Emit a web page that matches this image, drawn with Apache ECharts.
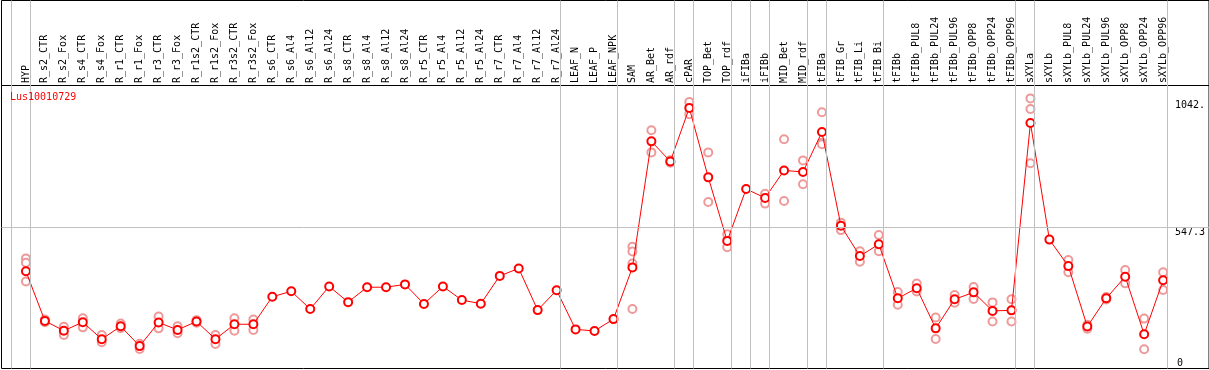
<!DOCTYPE html>
<html>
<head>
<meta charset="utf-8">
<script src="https://cdn.jsdelivr.net/npm/echarts@6/dist/echarts.min.js"></script>
<style>
html,body{margin:0;padding:0;background:#fff;}
#chart{width:1209px;height:370px;}
</style>
</head>
<body>
<div id="chart"></div>
<script>
const title = 'Lus10010729';
const categories = ['HYP','R_s2_CTR','R_s2_Fox','R_s4_CTR','R_s4_Fox','R_r1_CTR','R_r1_Fox','R_r3_CTR','R_r3_Fox','R_r1s2_CTR','R_r1s2_Fox','R_r3s2_CTR','R_r3s2_Fox','R_s6_CTR','R_s6_Al4','R_s6_Al12','R_s6_Al24','R_s8_CTR','R_s8_Al4','R_s8_Al12','R_s8_Al24','R_r5_CTR','R_r5_Al4','R_r5_Al12','R_r5_Al24','R_r7_CTR','R_r7_Al4','R_r7_Al12','R_r7_Al24','LEAF_N','LEAF_P','LEAF_NPK','SAM','AR_Bet','AR_rdf','cPAR','TOP_Bet','TOP_rdf','iFIBa','iFIBb','MID_Bet','MID_rdf','tFIBa','tFIB_Gr','tFIB_Li','tFIB_Bi','tFIBb','tFIBb_PUL8','tFIBb_PUL24','tFIBb_PUL96','tFIBb_OPP8','tFIBb_OPP24','tFIBb_OPP96','sXYLa','sXYLb','sXYLb_PUL8','sXYLb_PUL24','sXYLb_PUL96','sXYLb_OPP8','sXYLb_OPP24','sXYLb_OPP96'];
const means = [378,185,147,180,114,164,87,179,150,183,114,172,172,279,300,231,319,258,316,316,327,251,319,266,252,360,389,227,304,152,146,192,393,883,805,1013,743,496,698,663,770,764,919,555,437,483,273,312,156,269,296,224,226,954,501,398,163,273,357,133,343];
const replicates = [[428,411,338],[190,180],[162,130],[195,160],[130,102],[175,157],[96,76],[202,156],[164,137],[188,178],[130,95],[195,147],[190,150],
[],[],[],[],[],[],[],[],[],[],[],[],[],[],[],[],[],[],[],
[473,455,408,231],[926,840],[810,800],[1036,988],[840,647],[522,471],[],[679,641],[891,651],[809,716],[996,878,872],[567,538],[456,415],[519,456],
[297,248],[330,299],[198,115],[286,256],[317,270],[257,183],[269,183],[1050,1009,798],[],[422,374],[170,155],[278,268],[383,331],[194,75],[374,305]];
const groupBreaks = [0,1,29,32,35,36,38,39,40,42,43,46,53,54,61];
const yTickValues = [547.3, 1042];
const yTickLabels = ['547.3', '1042.'];
const yZeroValue = [0];
const yZeroLabel = ['0'];

// layout constants
const slotShift = 15/19;
const xMin = (1.5 - 26) / 19, xMax = (1212 - 26) / 19;
const yMax = 1430.5;
const font = 'DejaVu Sans Mono';

const lineData = means.map((v, i) => [i, v]);
const repData = [];
replicates.forEach((arr, i) => arr.forEach(v => repData.push([i, v])));
const sepLines = groupBreaks.map(k => ({ xAxis: k - slotShift }));

const chart = echarts.init(document.getElementById('chart'), null, { renderer: 'canvas' });
chart.setOption({
  animation: false,
  backgroundColor: '#fff',
  title: {
    text: title, left: 10, top: 92, padding: 0,
    textStyle: { color: '#ff0000', fontSize: 10, fontWeight: 'normal', fontFamily: font }
  },
  grid: { left: 1.5, right: -3, top: 0.5, bottom: 1.5, show: true, borderColor: '#000', borderWidth: 1, containLabel: false },
  xAxis: [
    { type: 'value', min: xMin, max: xMax, show: true, axisLine: { show: false }, axisTick: { show: false }, axisLabel: { show: false }, splitLine: { show: false } },
    { type: 'value', min: xMin, max: xMax, position: 'bottom', offset: -283.5,
      axisLine: { show: true, onZero: false, lineStyle: { color: '#000', width: 1 } },
      axisTick: { show: false }, splitLine: { show: false },
      axisLabel: { show: true, inside: true, rotate: 90, margin: 2, customValues: categories.map((c, i) => i),
        formatter: v => categories[Math.round(v)] || '', color: '#000', fontSize: 10, fontFamily: font, hideOverlap: false } }
  ],
  yAxis: [
    { type: 'value', min: 0, max: yMax, position: 'right', axisLine: { show: false }, axisTick: { show: false }, splitLine: { show: false },
      axisLabel: { inside: true, align: 'left', verticalAlign: 'top', margin: 34, customValues: yTickValues,
        formatter: v => yTickLabels[yTickValues.indexOf(v)] || '', color: '#000', fontSize: 10, fontFamily: font } },
    { type: 'value', min: 0, max: yMax, position: 'right', axisLine: { show: false }, axisTick: { show: false }, splitLine: { show: false },
      axisLabel: { inside: true, align: 'left', verticalAlign: 'bottom', margin: 32, customValues: yZeroValue,
        formatter: v => yZeroLabel[yZeroValue.indexOf(v)] || '', color: '#000', fontSize: 10, fontFamily: font } }
  ],
  series: [
    { type: 'scatter', xAxisIndex: 0, yAxisIndex: 0, data: repData, symbol: 'emptyCircle', symbolSize: 8, z: 2,
      itemStyle: { color: '#ee9a9a', borderColor: '#ee9a9a', borderWidth: 1.2, opacity: 1 },
      markLine: { silent: true, symbol: 'none', label: { show: false }, animation: false,
        lineStyle: { color: '#c0c0c0', width: 1, type: 'solid' },
        data: sepLines.concat([{ yAxis: 547.3 }]) } },
    { type: 'line', xAxisIndex: 0, yAxisIndex: 0, data: lineData, symbol: 'emptyCircle', symbolSize: 8, z: 3,
      lineStyle: { color: '#ff0000', width: 1 },
      itemStyle: { color: '#ff0000', borderColor: '#ff0000', borderWidth: 1.5 } }
  ]
});
</script>
</body>
</html>
